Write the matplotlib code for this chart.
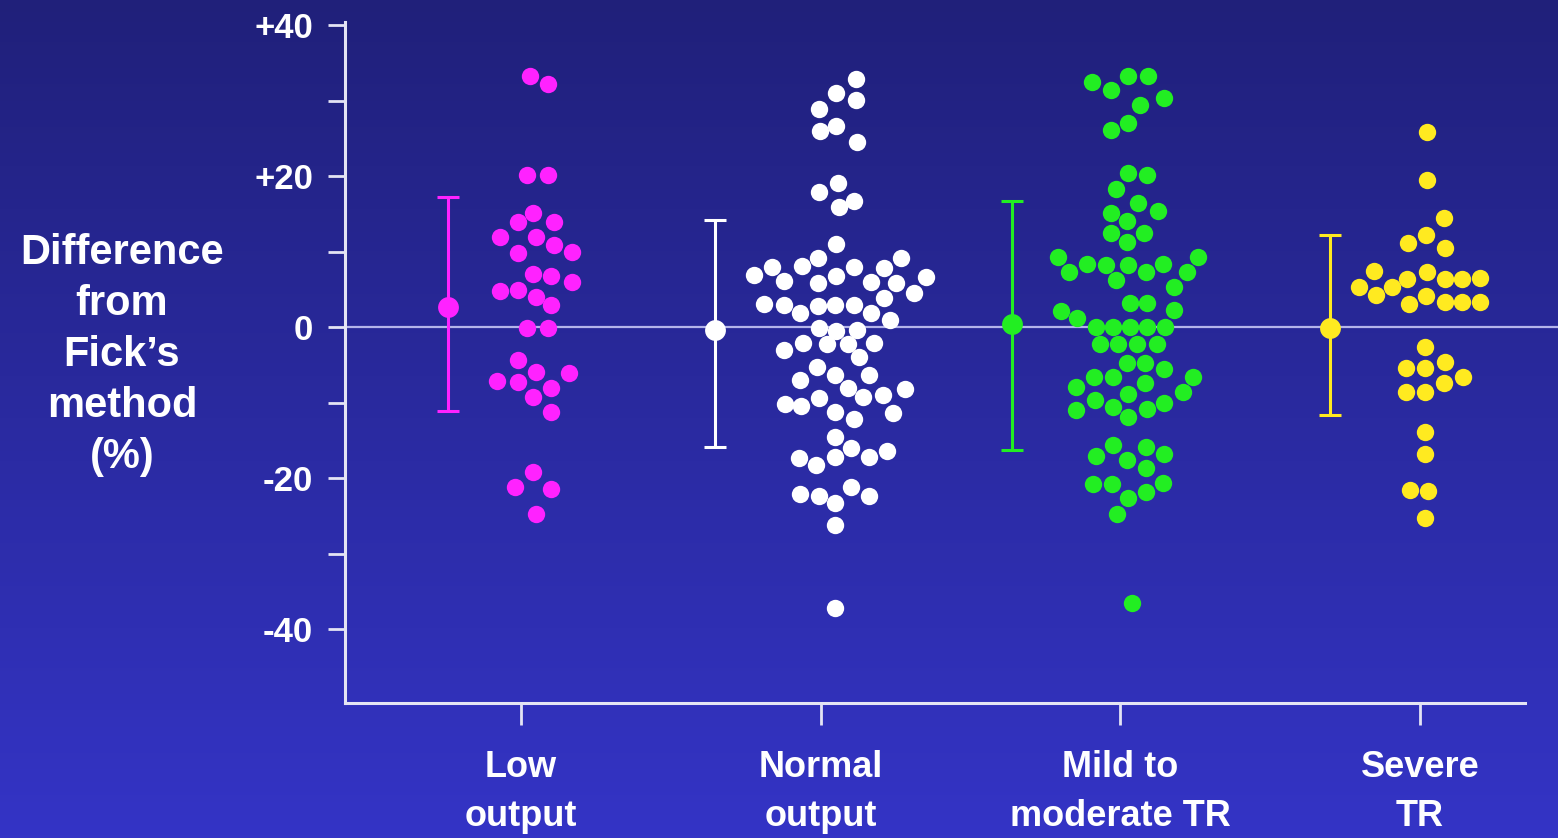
import matplotlib
matplotlib.use("Agg")
import matplotlib.pyplot as plt
import numpy as np

# values (difference from Fick's method, %)
# dx = horizontal spread of each dot inside its category, in category units
categories = ["Low\noutput", "Normal\noutput", "Mild to\nmoderate TR", "Severe\nTR"]
colors = ["#ff22ff", "#ffffff", "#22ee22", "#ffea20"]

low_y = [33.2, 32.2, 20.1, 20.1, 15.1, 13.9, 13.9, 11.9, 11.9, 10.9, 9.9, 9.8,
         7.0, 6.8, 6.0, 4.8, 4.9, 4.0, 2.9, -0.1, -0.1, -4.4, -6.0, -6.1,
         -7.2, -7.3, -8.1, -9.3, -11.3, -19.2, -21.2, -21.5, -24.8]
low_dx = [0.03, 0.09, 0.02, 0.09, 0.04, -0.01, 0.11, -0.07, 0.05, 0.11, 0.17, -0.01,
          0.04, 0.10, 0.17, -0.07, -0.01, 0.05, 0.10, 0.02, 0.09, -0.01, 0.05, 0.16,
          -0.08, -0.01, 0.10, 0.04, 0.10, 0.04, -0.02, 0.10, 0.05]

normal_y = [32.8, 31.0, 30.1, 28.9, 26.6, 26.0, 24.5, 19.1, 17.9, 16.7, 15.9, 11.0,
            6.9, 7.9, 6.1, 8.1, 9.1, 5.8, 6.8, 7.9, 6.0, 7.8, 9.1, 5.8, 4.5, 6.6, 3.8,
            3.0, 2.9, 1.9, 2.8, 2.9, 2.9, 1.9, 0.9,
            -0.1, -0.5, -0.4,
            -3.0, -2.1, -2.3, -2.3, -2.1, -4.0,
            -5.3, -6.4, -6.4, -7.0,
            -8.1, -9.3, -9.0, -8.2,
            -10.2, -10.5, -9.4, -11.3, -12.2, -11.4,
            -14.6,
            -17.4, -18.3, -17.2, -16.0, -17.2, -16.4,
            -22.1, -22.4, -23.3, -21.2, -22.4,
            -26.2, -37.2]
normal_dx = [0.117, 0.053, 0.117, -0.007, 0.053, -0.003, 0.12, 0.057, -0.007, 0.113, 0.06, 0.05,
             -0.223, -0.163, -0.123, -0.063, -0.01, -0.01, 0.05, 0.11, 0.167, 0.21, 0.267, 0.25, 0.31, 0.35, 0.21,
             -0.19, -0.123, -0.07, -0.01, 0.047, 0.11, 0.167, 0.233,
             -0.007, 0.05, 0.123,
             -0.123, -0.06, 0.02, 0.09, 0.177, 0.127,
             -0.013, 0.047, 0.163, -0.07,
             0.093, 0.143, 0.207, 0.283,
             -0.12, -0.067, -0.007, 0.047, 0.11, 0.243,
             0.047,
             -0.073, -0.017, 0.047, 0.103, 0.16, 0.223,
             -0.07, -0.007, 0.047, 0.103, 0.163,
             0.047, 0.047]

mild_y = [32.5, 31.4, 33.2, 33.2, 30.3, 29.4, 27.0, 26.1,
          20.4, 20.1, 18.3, 16.4, 15.4, 15.1, 14.0, 12.5, 11.3, 12.5,
          9.3, 7.3, 8.3, 8.2, 8.2, 7.3, 8.3, 7.3, 9.3, 6.2, 5.3,
          3.2, 3.2, 2.3, 2.1, 1.2,
          0.0, 0.0, 0.0, 0.0, 0.0,
          -2.3, -2.3, -2.3, -2.3,
          -4.8, -4.8, -5.6,
          -7.9, -6.6, -6.6, -7.4, -8.9, -6.6, -8.6,
          -11.0, -9.7, -10.6, -11.9, -10.9, -10.1,
          -15.6, -17.1, -17.6, -15.9, -16.8, -18.7,
          -20.8, -20.8, -21.9, -20.7, -22.6, -24.8,
          -36.6]
mild_dx = [-0.093, -0.03, 0.027, 0.093, 0.147, 0.067, 0.027, -0.03,
           0.027, 0.09, -0.013, 0.06, 0.127, -0.03, 0.023, -0.03, 0.023, 0.08,
           -0.207, -0.17, -0.11, -0.047, 0.027, 0.087, 0.143, 0.223, 0.26, -0.013, 0.18,
           0.033, 0.09, 0.18, -0.197, -0.143,
           -0.08, -0.023, 0.033, 0.09, 0.15,
           -0.067, -0.007, 0.057, 0.123,
           0.023, 0.083, 0.147,
           -0.147, -0.087, -0.023, 0.083, 0.027, 0.243, 0.21,
           -0.147, -0.083, -0.023, 0.027, 0.09, 0.147,
           -0.023, -0.08, 0.023, 0.087, 0.147, 0.087,
           -0.09, -0.027, 0.087, 0.143, 0.027, -0.01,
           0.04]

severe_y = [25.8, 19.5, 14.4, 12.2, 11.1, 10.5,
            7.4, 5.3, 4.2, 5.3, 6.4, 7.3, 6.4, 6.4, 6.5,
            3.0, 4.1, 3.3, 3.3, 3.3,
            -2.6, -5.4, -5.4, -4.6, -6.6, -8.6, -8.6, -7.4,
            -13.9, -16.8, -21.6, -21.7, -25.3]
severe_dx = [0.023, 0.023, 0.08, 0.02, -0.04, 0.083,
             -0.153, -0.203, -0.147, -0.093, -0.043, 0.023, 0.083, 0.14, 0.2,
             -0.037, 0.02, 0.083, 0.14, 0.2,
             0.017, -0.047, 0.017, 0.083, 0.143, -0.047, 0.017, 0.08,
             0.017, 0.017, -0.033, 0.027, 0.017]

# mean and range bars drawn left of each group
bar_mean = [2.6, -0.4, 0.4, -0.1]
bar_upper = [17.2, 14.2, 16.7, 12.2]
bar_lower = [-11.1, -15.9, -16.3, -11.7]
bar_dx = [-0.243, -0.353, -0.36, -0.3]

groups_y = [low_y, normal_y, mild_y, severe_y]
groups_dx = [low_dx, normal_dx, mild_dx, severe_dx]

plt.rcParams['font.family'] = ['Liberation Sans', 'DejaVu Sans']
plt.rcParams['font.weight'] = 'bold'

line_col = "#e4e4f4"

fig = plt.figure(figsize=(15.58, 8.38), dpi=100)

# background gradient
bg = fig.add_axes([0, 0, 1, 1], zorder=-1)
top = np.array([32, 32, 122]) / 255.
bottom = np.array([52, 52, 198]) / 255.
t = np.linspace(0, 1, 256)[:, None]
grad = top[None, :] * (1 - t) + bottom[None, :] * t
bg.imshow(grad[:, None, :], aspect='auto', extent=[0, 1, 0, 1])
bg.axis('off')

ax = fig.add_axes([0.2214, 0.1611, 0.7574, 0.8126])
ax.patch.set_alpha(0)

ax.axhline(0, xmin=0, xmax=1.03, color="#b4b4ea", lw=1.6, zorder=1, clip_on=False)

for i in range(len(categories)):
    pos = i + 1
    xs = [pos + d for d in groups_dx[i]]
    ax.plot(xs, groups_y[i], 'o', ms=12.5, color=colors[i], mec='none', zorder=3)
    m = bar_mean[i]
    ax.errorbar(pos + bar_dx[i], m, yerr=[[m - bar_lower[i]], [bar_upper[i] - m]],
                fmt='o', ms=15, color=colors[i], mec='none', ecolor=colors[i],
                elinewidth=2.2, capsize=8, capthick=2.2, zorder=3)

ax.set_xlim(0.413, 4.35)
ax.set_ylim(-49.8, 40.4)

ax.set_xticks(range(1, len(categories) + 1))
ax.set_xticklabels(categories, fontsize=26, color='white', linespacing=1.5)
ax.set_yticks([40, 20, 0, -20, -40])
ax.set_yticklabels(["+40", "+20", "0", "-20", "-40"], fontsize=25, color='white')
ax.set_yticks([30, 10, -10, -30], minor=True)

ax.tick_params(axis='x', length=16, width=2, color=line_col, pad=18)
ax.tick_params(axis='y', which='both', length=12, width=2, color=line_col, pad=11)

for side in ['top', 'right']:
    ax.spines[side].set_visible(False)
for side in ['left', 'bottom']:
    ax.spines[side].set_color(line_col)
    ax.spines[side].set_linewidth(2.2)

fig.text(122 / 1558, 1 - 355 / 838, "Difference\nfrom\nFick\u2019s\nmethod\n(%)",
         ha='center', va='center', fontsize=30, color='white', linespacing=1.36)

fig.savefig("out.png", dpi=100)
